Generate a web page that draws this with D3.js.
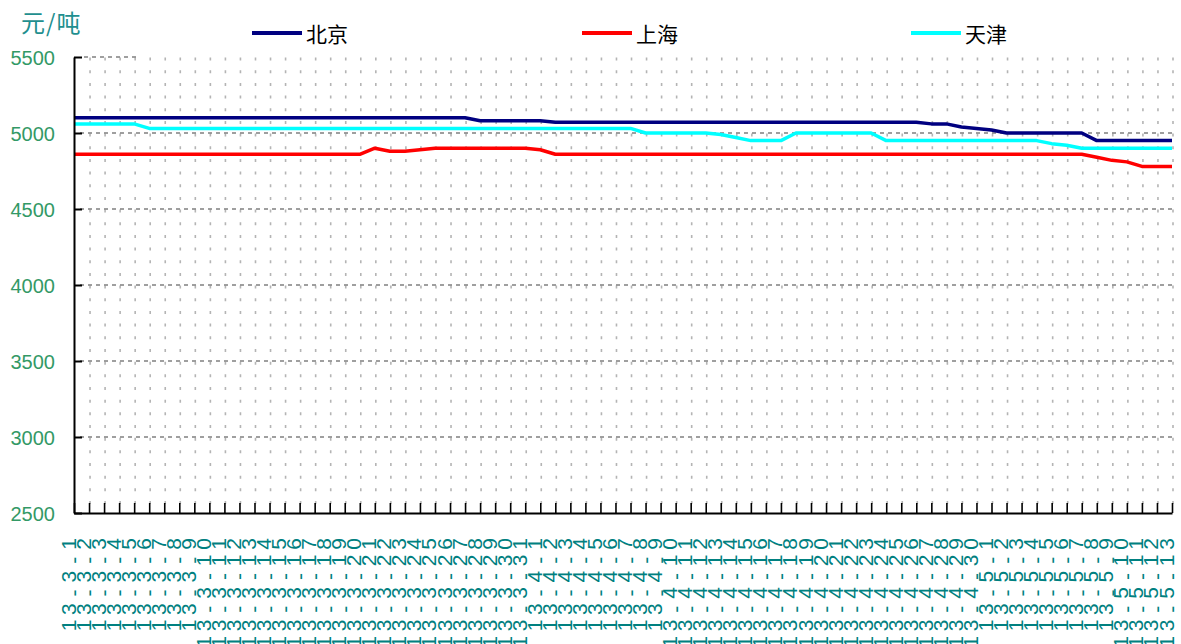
<!DOCTYPE html>
<html><head><meta charset="utf-8">
<script src="https://cdn.jsdelivr.net/npm/d3@7"></script>
<style>body{margin:0;background:#fff;} svg{display:block;}</style>
</head><body><svg id="c" width="1181" height="644"></svg>
<script>
const dates = ["13-3-1","13-3-2","13-3-3","13-3-4","13-3-5","13-3-6","13-3-7","13-3-8","13-3-9","13-3-10",
"13-3-11","13-3-12","13-3-13","13-3-14","13-3-15","13-3-16","13-3-17","13-3-18","13-3-19","13-3-20",
"13-3-21","13-3-22","13-3-23","13-3-24","13-3-25","13-3-26","13-3-27","13-3-28","13-3-29","13-3-30","13-3-31",
"13-4-1","13-4-2","13-4-3","13-4-4","13-4-5","13-4-6","13-4-7","13-4-8","13-4-9","13-4-10",
"13-4-11","13-4-12","13-4-13","13-4-14","13-4-15","13-4-16","13-4-17","13-4-18","13-4-19","13-4-20",
"13-4-21","13-4-22","13-4-23","13-4-24","13-4-25","13-4-26","13-4-27","13-4-28","13-4-29","13-4-30",
"13-5-1","13-5-2","13-5-3","13-5-4","13-5-5","13-5-6","13-5-7","13-5-8","13-5-9","13-5-10",
"13-5-11","13-5-12","13-5-13"];
const beijing = [5100,5100,5100,5100,5100,5100,5100,5100,5100,5100,
5100,5100,5100,5100,5100,5100,5100,5100,5100,5100,
5100,5100,5100,5100,5100,5100,5100,5080,5080,5080,5080,
5080,5070,5070,5070,5070,5070,5070,5070,5070,5070,
5070,5070,5070,5070,5070,5070,5070,5070,5070,5070,
5070,5070,5070,5070,5070,5070,5060,5060,5040,5030,
5020,5000,5000,5000,5000,5000,5000,4950,4950,4950,
4950,4950,4950];
const shanghai = [4860,4860,4860,4860,4860,4860,4860,4860,4860,4860,
4860,4860,4860,4860,4860,4860,4860,4860,4860,4860,
4900,4880,4880,4890,4900,4900,4900,4900,4900,4900,4900,
4890,4860,4860,4860,4860,4860,4860,4860,4860,4860,
4860,4860,4860,4860,4860,4860,4860,4860,4860,4860,
4860,4860,4860,4860,4860,4860,4860,4860,4860,4860,
4860,4860,4860,4860,4860,4860,4860,4840,4820,4810,
4780,4780,4780,4780];
const tianjin = [5060,5060,5060,5060,5060,5030,5030,5030,5030,5030,
5030,5030,5030,5030,5030,5030,5030,5030,5030,5030,
5030,5030,5030,5030,5030,5030,5030,5030,5030,5030,5030,
5030,5030,5030,5030,5030,5030,5030,5000,5000,5000,
5000,5000,4990,4970,4950,4950,4950,5000,5000,5000,
5000,5000,5000,4950,4950,4950,4950,4950,4950,4950,
4950,4950,4950,4950,4930,4920,4900,4900,4900,4900,
4900,4900,4900];
const yTicks = [2500,3000,3500,4000,4500,5000,5500];
const seriesNames = ["北京","上海","天津"];
const seriesColors = ["#000080","#FF0000","#00FFFF"];
const unitLabel = "元/吨";

const series = [beijing, shanghai, tianjin];
const svg = d3.select("#c");
const x = d3.scalePoint().domain(dates).range([74, 1172]);
const y = d3.scaleLinear().domain([2500, 5500]).range([513, 57]);

// vertical dotted grid
svg.append("g").selectAll("line").data(dates.slice(1)).join("line")
  .attr("x1", d => x(d) + 1).attr("x2", d => x(d) + 1)
  .attr("y1", y(2500)).attr("y2", y(5500))
  .attr("stroke", "#b4b4b4").attr("stroke-width", 1.6)
  .attr("stroke-dasharray", "3 9.67").attr("stroke-dashoffset", 3.67);

// horizontal dashed grid
svg.append("g").selectAll("line").data(yTicks.filter(v => v > 2500 && v < 5500)).join("line")
  .attr("x1", 80).attr("x2", x.range()[1])
  .attr("y1", d => y(d)).attr("y2", d => y(d))
  .attr("stroke", "#808080").attr("stroke-width", 1.6)
  .attr("stroke-dasharray", "4 4");
svg.append("line").attr("x1", 84).attr("x2", 136).attr("y1", y(5500)).attr("y2", y(5500))
  .attr("stroke", "#808080").attr("stroke-width", 1.6).attr("stroke-dasharray", "4 4");

// series lines
const line = d3.line().x((d, i) => x(dates[i])).y(d => y(d));
series.forEach((s, k) => {
  svg.append("path").datum(s).attr("d", line)
    .attr("fill", "none").attr("stroke", seriesColors[k]).attr("stroke-width", 3.5)
    .attr("stroke-linejoin", "round");
});

// y axis
const yAxis = svg.append("g").attr("transform", `translate(${x.range()[0]},0)`)
  .call(d3.axisLeft(y).tickValues(yTicks).tickSizeInner(-8).tickSizeOuter(0).tickPadding(19).tickFormat(d3.format("d")));
yAxis.select(".domain").attr("stroke", "#000").attr("stroke-width", 2);
yAxis.selectAll(".tick line").attr("stroke", "#000").attr("stroke-width", 2);
yAxis.selectAll(".tick text").attr("fill", "#339966").attr("font-size", 20)
  .attr("font-family", "Liberation Sans, Arial, sans-serif").attr("dy", "0.38em");

// x axis
const xAxis = svg.append("g").attr("transform", `translate(0,${y(2500)})`)
  .call(d3.axisBottom(x).tickSizeInner(-10).tickSizeOuter(0).tickFormat(""));
xAxis.select(".domain").attr("stroke", "#000").attr("stroke-width", 2);
xAxis.selectAll(".tick line").attr("stroke", "#000").attr("stroke-width", 1.6);

// x labels: rotated, one glyph per row, end aligned at top
const lab = svg.append("g").attr("fill", "#008080")
  .attr("font-family", "Liberation Sans, Arial, sans-serif").attr("font-size", 21);
dates.forEach(d => {
  const chars = d.split("");
  const n = chars.length;
  chars.forEach((c, j) => {
    const k = n - 1 - j;
    const yc = 544 + k * 16.3;
    const bx = c === "-" ? x(d) + 7 : x(d) + 1.5;
    lab.append("text").attr("transform", `translate(${bx},${yc}) rotate(-90)`)
      .attr("text-anchor", "middle").text(c);
  });
});

// unit label
svg.append("text").attr("x", 21).attr("y", 21).attr("dominant-baseline", "central")
  .attr("font-family", "Noto Sans CJK SC, sans-serif").attr("font-size", 24)
  .attr("letter-spacing", 1).attr("fill", "#1f8f8f").text(unitLabel);

// legend
const legX = [252, 582, 911];
seriesNames.forEach((nm, k) => {
  svg.append("line").attr("x1", legX[k]).attr("x2", legX[k] + 50).attr("y1", 33).attr("y2", 33)
    .attr("stroke", seriesColors[k]).attr("stroke-width", 4);
  svg.append("text").attr("x", legX[k] + 54).attr("y", 33).attr("dominant-baseline", "central")
    .attr("font-family", "Noto Sans CJK SC, sans-serif").attr("font-size", 21)
    .attr("fill", "#000").text(nm);
});
</script></body></html>
